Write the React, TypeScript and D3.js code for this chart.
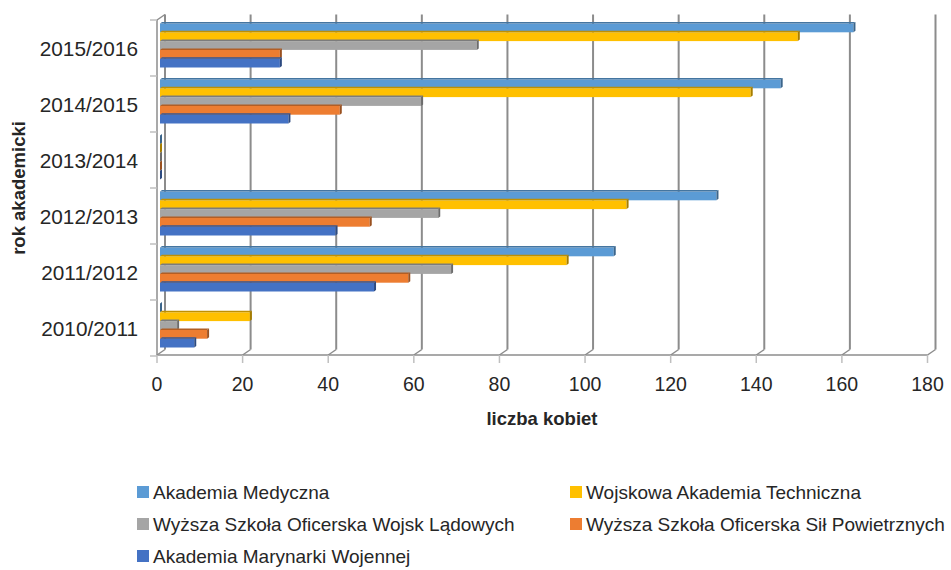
import React from "react";
import * as d3 from "d3";

const categories = ["2010/2011", "2011/2012", "2012/2013", "2013/2014", "2014/2015", "2015/2016"];
const seriesNames = [
  "Akademia Medyczna",
  "Wojskowa Akademia Techniczna",
  "Wyższa Szkoła Oficerska Wojsk Lądowych",
  "Wyższa Szkoła Oficerska Sił Powietrznych",
  "Akademia Marynarki Wojennej",
];
const akademiaMedyczna = [0, 106, 130, 0, 145, 162];
const wat = [21, 95, 109, 0, 138, 149];
const wsowl = [4, 68, 65, 0, 61, 74];
const wsosp = [11, 58, 49, 0, 42, 28];
const amw = [8, 50, 41, 0, 30, 28];
const seriesValues = [akademiaMedyczna, wat, wsowl, wsosp, amw];
const xTicks = [0, 20, 40, 60, 80, 100, 120, 140, 160, 180];

const colors = ["#5B9BD5", "#FFC000", "#A5A5A5", "#ED7D31", "#4472C4"];

const W = 951;
const H = 570;
const FONT = "'Liberation Sans', Arial, sans-serif";

export default function App() {
  const x = d3.scaleLinear().domain([0, 180]).range([157, 927.5]);
  const y = d3
    .scaleBand<string>()
    .domain([...categories].reverse())
    .range([20, 356])
    .paddingInner(0)
    .paddingOuter(0);
  const backDx = 8;
  const backDy = -5.5;
  const barDx = 3;
  const barDy = -2.5;
  const bw = y.bandwidth();
  const groupPad = 6;
  const barH = (bw - 2 * groupPad) / seriesNames.length;
  const depth = 2;
  const depthY = -1.5;
  const gridColor = "#8c8c8c";

  const bars: React.ReactNode[] = [];
  categories.forEach((cat, ci) => {
    seriesValues.forEach((vals, si) => {
      const v = vals[ci];
      const xs = x(0) + barDx;
      const xe = x(v) + barDx;
      const yt = (y(cat) as number) + barDy + groupPad + si * barH;
      const c = d3.color(colors[si])!;
      const dark = c.darker(0.8).toString();
      const darker = c.darker(1.2).toString();
      bars.push(
        <g key={`${ci}-${si}`}>
          {v > 0 && <rect x={xs} y={yt} width={xe - xs} height={barH} fill={colors[si]} />}
          {v > 0 && (
            <polygon
              points={`${xs},${yt} ${xs + depth},${yt + depthY} ${xe + depth},${yt + depthY} ${xe},${yt}`}
              fill={dark}
            />
          )}
          <polygon
            points={`${xe},${yt} ${xe + depth},${yt + depthY} ${xe + depth},${yt + barH + depthY} ${xe},${yt + barH}`}
            fill={darker}
          />
        </g>
      );
    });
  });

  const yTop = 20;
  const yBot = 355;

  return (
    <svg
      width={W}
      height={H}
      style={{ position: "absolute", left: 0, top: 0, background: "#fff" }}
      fontFamily={FONT}
    >
      {/* back wall gridlines */}
      {xTicks.map((t) => (
        <g key={`g${t}`}>
          <line
            x1={x(t) + backDx}
            x2={x(t) + backDx}
            y1={yTop + backDy}
            y2={yBot + backDy}
            stroke={gridColor}
            strokeWidth={2}
          />
          <line
            x1={x(t)}
            y1={yBot}
            x2={x(t) + backDx}
            y2={yBot + backDy}
            stroke={gridColor}
            strokeWidth={1.5}
          />
        </g>
      ))}
      {/* left wall */}
      <line x1={x(0)} x2={x(0) + backDx} y1={yTop} y2={yTop + backDy} stroke={gridColor} strokeWidth={1.5} />
      <line x1={x(0)} x2={x(0)} y1={yTop} y2={yBot} stroke={gridColor} strokeWidth={1.5} />
      {/* floor front edge */}
      <line x1={x(0)} x2={x(180)} y1={yBot} y2={yBot} stroke={gridColor} strokeWidth={1.5} />
      {/* x ticks */}
      {xTicks.map((t) => (
        <line key={`t${t}`} x1={x(t)} x2={x(t)} y1={yBot} y2={yBot + 8} stroke="#bfbfbf" strokeWidth={1.5} />
      ))}
      {/* y ticks */}
      {[...categories, "end"].map((c, i) => {
        const yy = 20 + i * bw;
        return <line key={`yt${i}`} x1={150} x2={157} y1={yy} y2={yy} stroke="#bfbfbf" strokeWidth={1.5} />;
      })}

      {bars}

      {/* category labels */}
      {categories.map((c) => (
        <text
          key={c}
          x={138}
          y={(y(c) as number) + bw / 2}
          textAnchor="end"
          dominantBaseline="central"
          fontSize={20.8}
          fill="#262626"
        >
          {c}
        </text>
      ))}
      {/* x tick labels */}
      {xTicks.map((t) => (
        <text key={`l${t}`} x={x(t)} y={384} textAnchor="middle" dominantBaseline="central" fontSize={19.5} fill="#262626">
          {t}
        </text>
      ))}
      <text x={542} y={418} textAnchor="middle" dominantBaseline="central" fontSize={18.5} fontWeight="bold" fill="#262626">
        liczba kobiet
      </text>
      <text
        transform="translate(18,188) rotate(-90)"
        textAnchor="middle"
        dominantBaseline="central"
        fontSize={18.5}
        fontWeight="bold"
        fill="#262626"
      >
        rok akademicki
      </text>

      {/* legend */}
      {seriesNames.map((name, i) => {
        const col = i % 2;
        const row = Math.floor(i / 2);
        const lx = col === 0 ? 137 : 570;
        const ly = 492 + row * 32;
        return (
          <g key={name}>
            <rect x={lx} y={ly - 6} width={12} height={12} fill={colors[i]} />
            <text x={lx + 16} y={ly} dominantBaseline="central" fontSize={19} fill="#262626">
              {name}
            </text>
          </g>
        );
      })}
    </svg>
  );
}
